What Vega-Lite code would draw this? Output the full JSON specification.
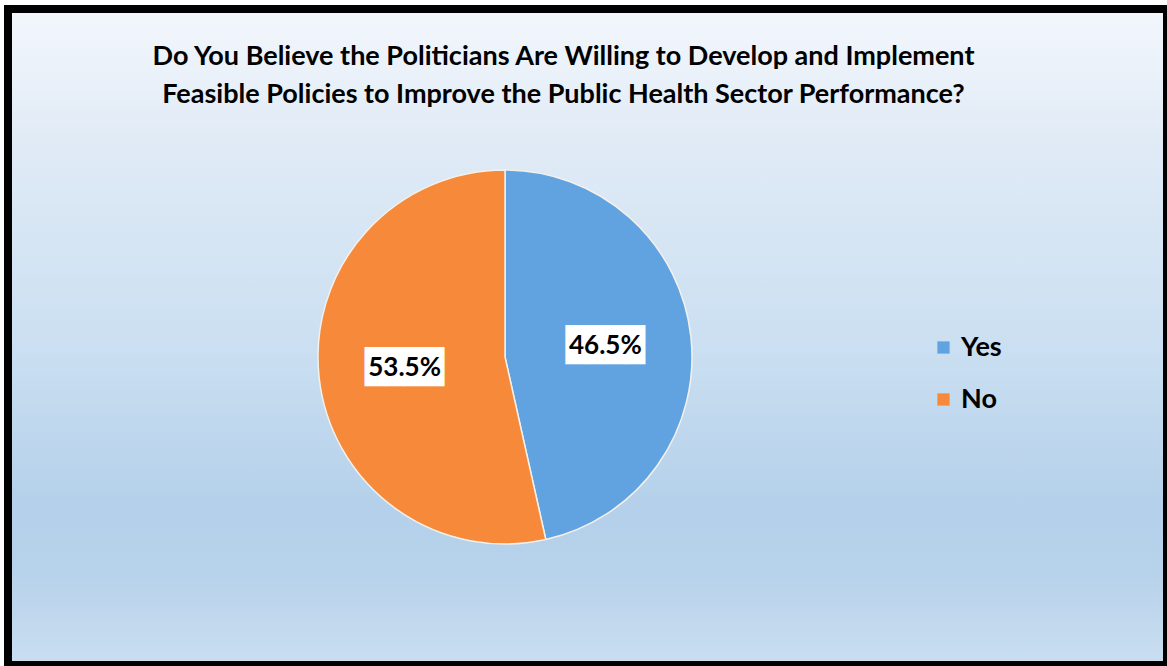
{
  "$schema": "https://vega.github.io/schema/vega-lite/v6.json",
  "width": 1159,
  "height": 656,
  "autosize": "none",
  "padding": {"left": 8, "top": 9, "right": 0, "bottom": 1},
  "background": "white",
  "config": {"view": {"stroke": null}, "font": "Lato"},
  "title": {
    "text": ["Do You Believe the Politicians Are Willing to Develop and Implement", "Feasible Policies to Improve the Public Health Sector Performance?"],
    "font": "Lato",
    "fontSize": 27,
    "fontWeight": "bold",
    "color": "black",
    "anchor": "middle",
    "frame": "group",
    "offset": -104,
    "lineHeight": 38,
    "dx": -24
  },
  "data": {"values": [
    {"answer": "Yes", "share": 0.465, "rank": 1},
    {"answer": "No", "share": 0.535, "rank": 2}
  ]},
  "layer": [
    {
      "data": {"values": [{}]},
      "mark": {
        "type": "rect",
        "color": {
          "gradient": "linear", "x1": 0, "y1": 0, "x2": 0, "y2": 1,
          "stops": [
            {"offset": 0, "color": "#f3f7fc"},
            {"offset": 0.22, "color": "#dfeaf6"},
            {"offset": 0.52, "color": "#cadff1"},
            {"offset": 0.76, "color": "#b4d0ea"},
            {"offset": 0.86, "color": "#b7d2eb"},
            {"offset": 1, "color": "#cadef0"}
          ]
        }
      },
      "encoding": {}
    },
    {
      "mark": {"type": "arc", "x": 497, "y": 348, "outerRadius": 187, "stroke": "#f4f0ea", "strokeWidth": 1.5},
      "encoding": {
        "theta": {"field": "share", "type": "quantitative", "stack": true},
        "order": {"field": "rank", "type": "quantitative"},
        "color": {
          "field": "answer", "type": "nominal",
          "scale": {"domain": ["Yes", "No"], "range": ["#60a3e0", "#f6893a"]},
          "legend": {
            "orient": "none", "legendX": 922, "legendY": 325, "title": null,
            "labelFontSize": 27, "labelFont": "Lato", "labelFontWeight": "bold", "labelColor": "black",
            "symbolType": "square", "symbolSize": 150, "symbolStrokeWidth": 0,
            "rowPadding": 24, "labelOffset": 4, "padding": 0
          }
        }
      }
    },
    {
      "mark": {"type": "text", "x": 497, "y": 348, "radius": 101, "font": "DejaVu Sans Mono", "fontSize": 33, "color": "white", "baseline": "middle", "align": "center"},
      "encoding": {
        "theta": {"field": "share", "type": "quantitative", "stack": true},
        "order": {"field": "rank", "type": "quantitative"},
        "text": {"value": "████"}
      }
    },
    {
      "mark": {"type": "text", "x": 497, "y": 348, "radius": 101, "font": "Lato", "fontSize": 26, "fontWeight": "bold", "color": "black", "baseline": "middle", "align": "center"},
      "encoding": {
        "theta": {"field": "share", "type": "quantitative", "stack": true},
        "order": {"field": "rank", "type": "quantitative"},
        "text": {"field": "share", "type": "quantitative", "format": ".1%"}
      }
    },
    {
      "data": {"values": [{}]},
      "mark": {"type": "rect", "filled": false, "stroke": "black", "strokeWidth": 8},
      "encoding": {}
    }
  ]
}
